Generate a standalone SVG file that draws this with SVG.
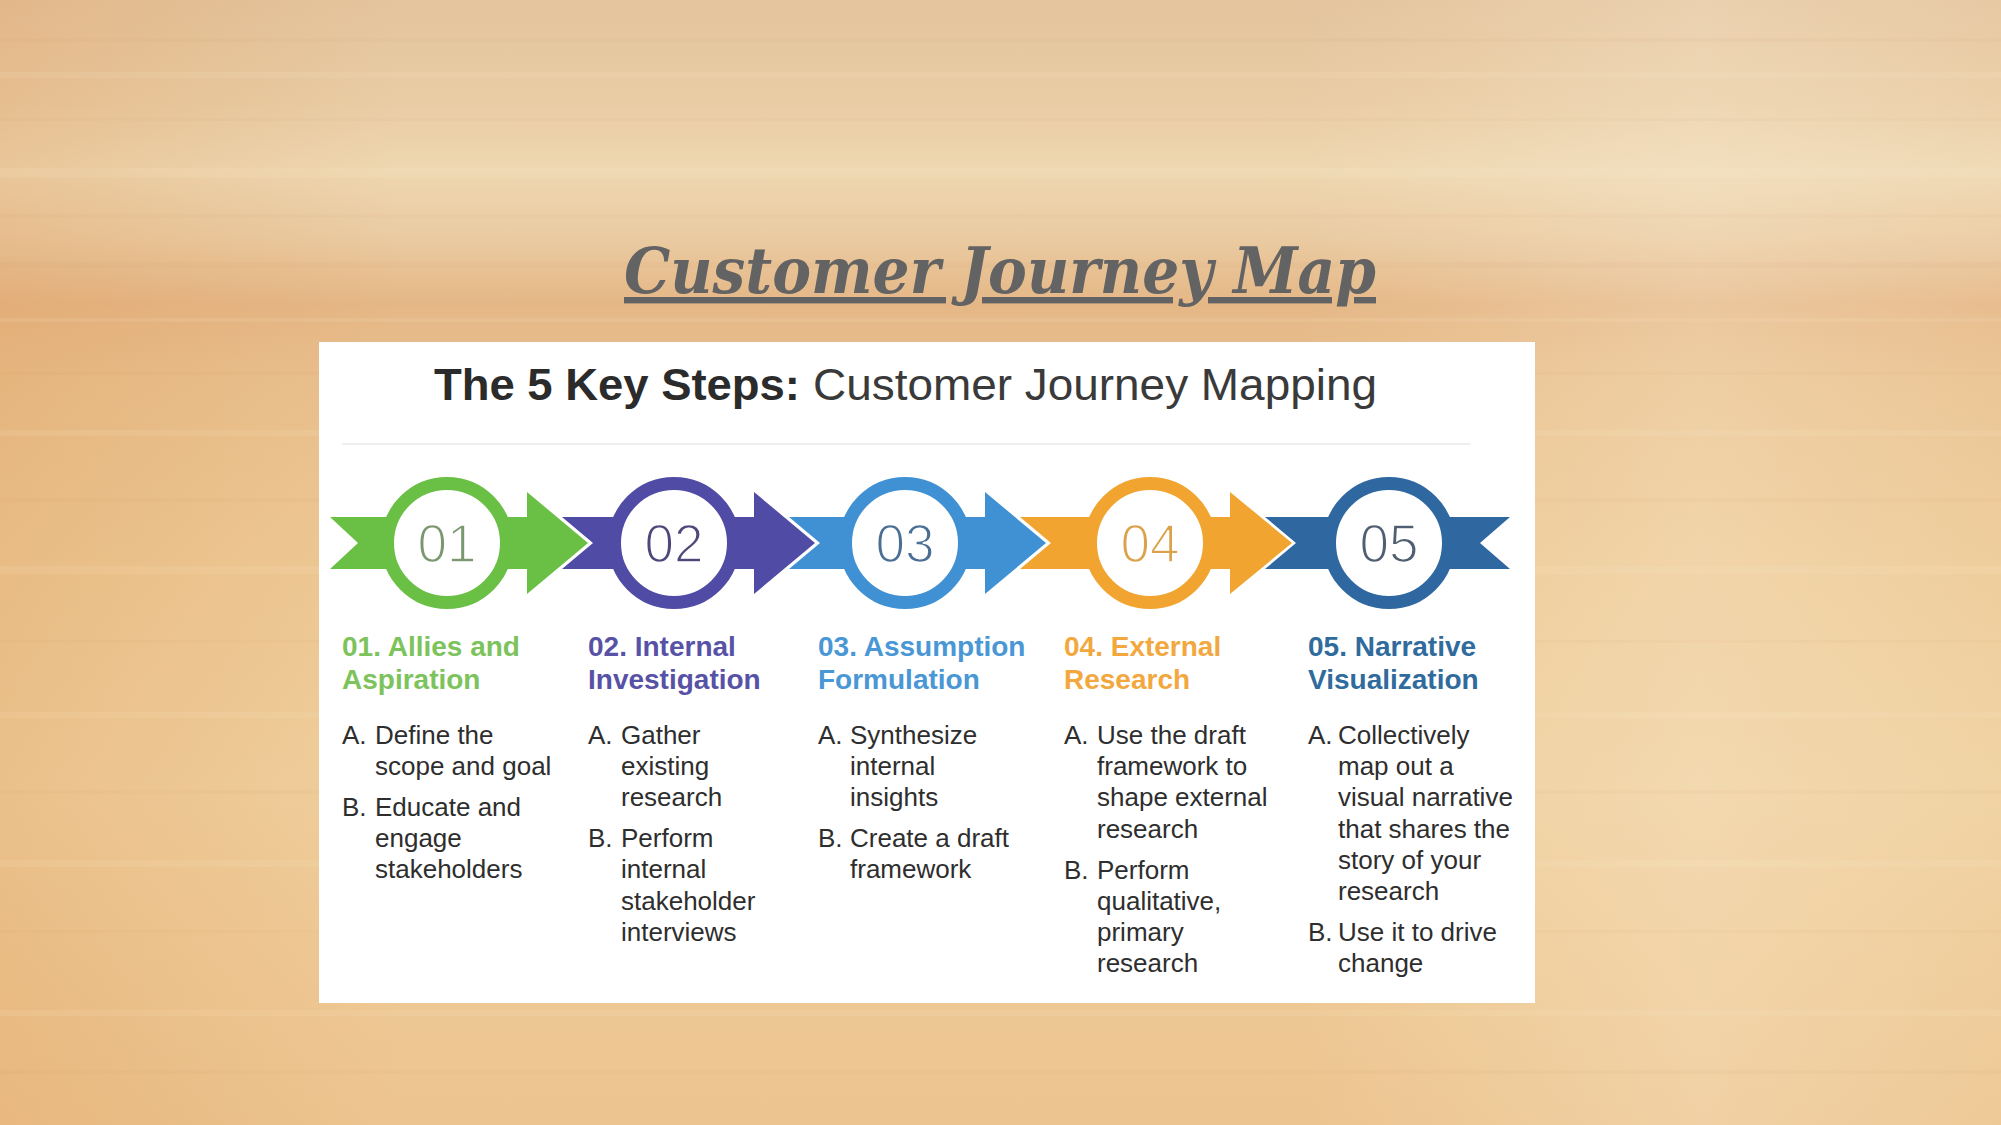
<svg xmlns="http://www.w3.org/2000/svg" width="2001" height="1125" viewBox="0 0 2001 1125">
  <defs>
    <linearGradient id="bgV" x1="0" y1="0" x2="0" y2="1">
      <stop offset="0" stop-color="#e4c49d"/>
      <stop offset="0.09" stop-color="#e9cca4"/>
      <stop offset="0.15" stop-color="#eed7b1"/>
      <stop offset="0.21" stop-color="#eacba2"/>
      <stop offset="0.27" stop-color="#e5b786"/>
      <stop offset="0.34" stop-color="#e9c18e"/>
      <stop offset="0.5" stop-color="#edc995"/>
      <stop offset="0.7" stop-color="#efcf9d"/>
      <stop offset="0.86" stop-color="#eec995"/>
      <stop offset="1" stop-color="#ecc48f"/>
    </linearGradient>
    <linearGradient id="bgH" x1="0" y1="0" x2="1" y2="0">
      <stop offset="0" stop-color="#d98c48" stop-opacity="0.22"/>
      <stop offset="0.2" stop-color="#d98c48" stop-opacity="0"/>
      <stop offset="0.65" stop-color="#fff6e4" stop-opacity="0"/>
      <stop offset="0.85" stop-color="#fff6e4" stop-opacity="0.25"/>
      <stop offset="1" stop-color="#fff6e4" stop-opacity="0.1"/>
    </linearGradient>
    <style>
      .streakD { fill: #c07c3c; opacity: 0.035; }
      .streakL { fill: #fff3d8; opacity: 0.1; }
      .title { font-family: "DejaVu Serif", serif; font-weight: bold; font-style: italic; font-size: 64px; fill: #636363; }
      .hdr { font-family: "Liberation Sans", Arial, sans-serif; font-size: 45px; }
      .num { font-family: "Liberation Sans", Arial, sans-serif; font-size: 53px; text-anchor: middle; stroke: #ffffff; stroke-width: 1.6px; }
      .head { font-family: "Liberation Sans", Arial, sans-serif; font-size: 28px; font-weight: bold; }
      .body { font-family: "Liberation Sans", Arial, sans-serif; font-size: 26px; fill: #2e2e2e; }
      .ring { fill: #ffffff; stroke-width: 13; }
    </style>
  </defs>

  <!-- background (wood texture) -->
  <rect x="0" y="0" width="2001" height="1125" fill="url(#bgV)"/>
  <rect x="0" y="0" width="2001" height="1125" fill="url(#bgH)"/>
  <rect class="streakD" x="0" y="38" width="2001" height="4"/>
  <rect class="streakL" x="0" y="72" width="2001" height="6"/>
  <rect class="streakD" x="0" y="118" width="2001" height="3"/>
  <rect class="streakL" x="0" y="168" width="2001" height="10"/>
  <rect class="streakD" x="0" y="214" width="2001" height="4"/>
  <rect class="streakD" x="0" y="262" width="2001" height="6"/>
  <rect class="streakL" x="0" y="318" width="2001" height="4"/>
  <rect class="streakD" x="0" y="372" width="2001" height="3"/>
  <rect class="streakL" x="0" y="430" width="2001" height="6"/>
  <rect class="streakD" x="0" y="498" width="2001" height="4"/>
  <rect class="streakL" x="0" y="566" width="2001" height="8"/>
  <rect class="streakD" x="0" y="640" width="2001" height="3"/>
  <rect class="streakL" x="0" y="712" width="2001" height="6"/>
  <rect class="streakD" x="0" y="790" width="2001" height="4"/>
  <rect class="streakL" x="0" y="860" width="2001" height="7"/>
  <rect class="streakD" x="0" y="930" width="2001" height="3"/>
  <rect class="streakL" x="0" y="1010" width="2001" height="6"/>
  <rect class="streakD" x="0" y="1070" width="2001" height="4"/>

  <!-- slide title -->
  <g id="title">
    <text class="title" x="624" y="293" textLength="752" lengthAdjust="spacingAndGlyphs" text-decoration="underline">Customer Journey Map</text>
  </g>

  <!-- panel -->
  <g id="panel">
    <rect x="319" y="342" width="1216" height="661" fill="#ffffff"/>
    <text class="hdr" y="400"><tspan x="434" font-weight="bold" fill="#2b2b2b" textLength="366" lengthAdjust="spacingAndGlyphs">The 5 Key Steps:</tspan><tspan x="813" fill="#3a3a3a" textLength="564" lengthAdjust="spacingAndGlyphs">Customer Journey Mapping</tspan></text>
    <line x1="342" y1="444" x2="1470" y2="444" stroke="#eeeeee" stroke-width="2"/>
  </g>

  <!-- connectors (arrowheads between steps) -->
  <g id="connectors">
    <path d="M527,492 L588,543 L527,594 Z" fill="#6abf45"/>
    <path d="M754,492 L815,543 L754,594 Z" fill="#504ba4"/>
    <path d="M985,492 L1046,543 L985,594 Z" fill="#4091d4"/>
    <path d="M1230,492 L1292,543 L1230,594 Z" fill="#f1a530"/>
  </g>

  <!-- step 01 -->
  <g id="step-01">
    <path d="M330,517 L528,517 L528,569 L330,569 L358,543 Z" fill="#6abf45"/>
    <circle class="ring" cx="447" cy="543" r="59.5" stroke="#6abf45"/>
    <text class="num" x="447" y="562" fill="#7a9770">01</text>
    <text class="head" fill="#7dc35c"><tspan x="342" y="656">01. Allies and</tspan><tspan x="342" y="689">Aspiration</tspan></text>
    <text class="body">
      <tspan x="342" y="744">A.</tspan><tspan x="375" y="744">Define the</tspan>
      <tspan x="375" y="775">scope and goal</tspan>
      <tspan x="342" y="816">B.</tspan><tspan x="375" y="816">Educate and</tspan>
      <tspan x="375" y="847">engage</tspan>
      <tspan x="375" y="878">stakeholders</tspan>
    </text>
  </g>

  <!-- step 02 -->
  <g id="step-02">
    <path d="M562,517 L755,517 L755,569 L562,569 L593,543 Z" fill="#504ba4"/>
    <circle class="ring" cx="674" cy="543" r="59.5" stroke="#504ba4"/>
    <text class="num" x="674" y="562" fill="#4c497a">02</text>
    <text class="head" fill="#5852a7"><tspan x="588" y="656">02. Internal</tspan><tspan x="588" y="689">Investigation</tspan></text>
    <text class="body">
      <tspan x="588" y="744">A.</tspan><tspan x="621" y="744">Gather</tspan>
      <tspan x="621" y="775">existing</tspan>
      <tspan x="621" y="806">research</tspan>
      <tspan x="588" y="847">B.</tspan><tspan x="621" y="847">Perform</tspan>
      <tspan x="621" y="878">internal</tspan>
      <tspan x="621" y="910">stakeholder</tspan>
      <tspan x="621" y="941">interviews</tspan>
    </text>
  </g>

  <!-- step 03 -->
  <g id="step-03">
    <path d="M789,517 L986,517 L986,569 L789,569 L820,543 Z" fill="#4091d4"/>
    <circle class="ring" cx="905" cy="543" r="59.5" stroke="#4091d4"/>
    <text class="num" x="905" y="562" fill="#4a6e94">03</text>
    <text class="head" fill="#4a97d6"><tspan x="818" y="656">03. Assumption</tspan><tspan x="818" y="689">Formulation</tspan></text>
    <text class="body">
      <tspan x="818" y="744">A.</tspan><tspan x="850" y="744">Synthesize</tspan>
      <tspan x="850" y="775">internal</tspan>
      <tspan x="850" y="806">insights</tspan>
      <tspan x="818" y="847">B.</tspan><tspan x="850" y="847">Create a draft</tspan>
      <tspan x="850" y="878">framework</tspan>
    </text>
  </g>

  <!-- step 04 -->
  <g id="step-04">
    <path d="M1020,517 L1231,517 L1231,569 L1020,569 L1051,543 Z" fill="#f1a530"/>
    <circle class="ring" cx="1150" cy="543" r="59.5" stroke="#f1a530"/>
    <text class="num" x="1150" y="562" fill="#dba24c">04</text>
    <text class="head" fill="#f2a83e"><tspan x="1064" y="656">04. External</tspan><tspan x="1064" y="689">Research</tspan></text>
    <text class="body">
      <tspan x="1064" y="744">A.</tspan><tspan x="1097" y="744">Use the draft</tspan>
      <tspan x="1097" y="775">framework to</tspan>
      <tspan x="1097" y="806">shape external</tspan>
      <tspan x="1097" y="838">research</tspan>
      <tspan x="1064" y="879">B.</tspan><tspan x="1097" y="879">Perform</tspan>
      <tspan x="1097" y="910">qualitative,</tspan>
      <tspan x="1097" y="941">primary</tspan>
      <tspan x="1097" y="972">research</tspan>
    </text>
  </g>

  <!-- step 05 -->
  <g id="step-05">
    <path d="M1265,517 L1510,517 L1480,543 L1510,569 L1265,569 L1296,543 Z" fill="#2f68a0"/>
    <circle class="ring" cx="1389" cy="543" r="59.5" stroke="#2f68a0"/>
    <text class="num" x="1389" y="562" fill="#4f5e70">05</text>
    <text class="head" fill="#306b9d"><tspan x="1308" y="656">05. Narrative</tspan><tspan x="1308" y="689">Visualization</tspan></text>
    <text class="body">
      <tspan x="1308" y="744">A.</tspan><tspan x="1338" y="744">Collectively</tspan>
      <tspan x="1338" y="775">map out a</tspan>
      <tspan x="1338" y="806">visual narrative</tspan>
      <tspan x="1338" y="838">that shares the</tspan>
      <tspan x="1338" y="869">story of your</tspan>
      <tspan x="1338" y="900">research</tspan>
      <tspan x="1308" y="941">B.</tspan><tspan x="1338" y="941">Use it to drive</tspan>
      <tspan x="1338" y="972">change</tspan>
    </text>
  </g>
</svg>
